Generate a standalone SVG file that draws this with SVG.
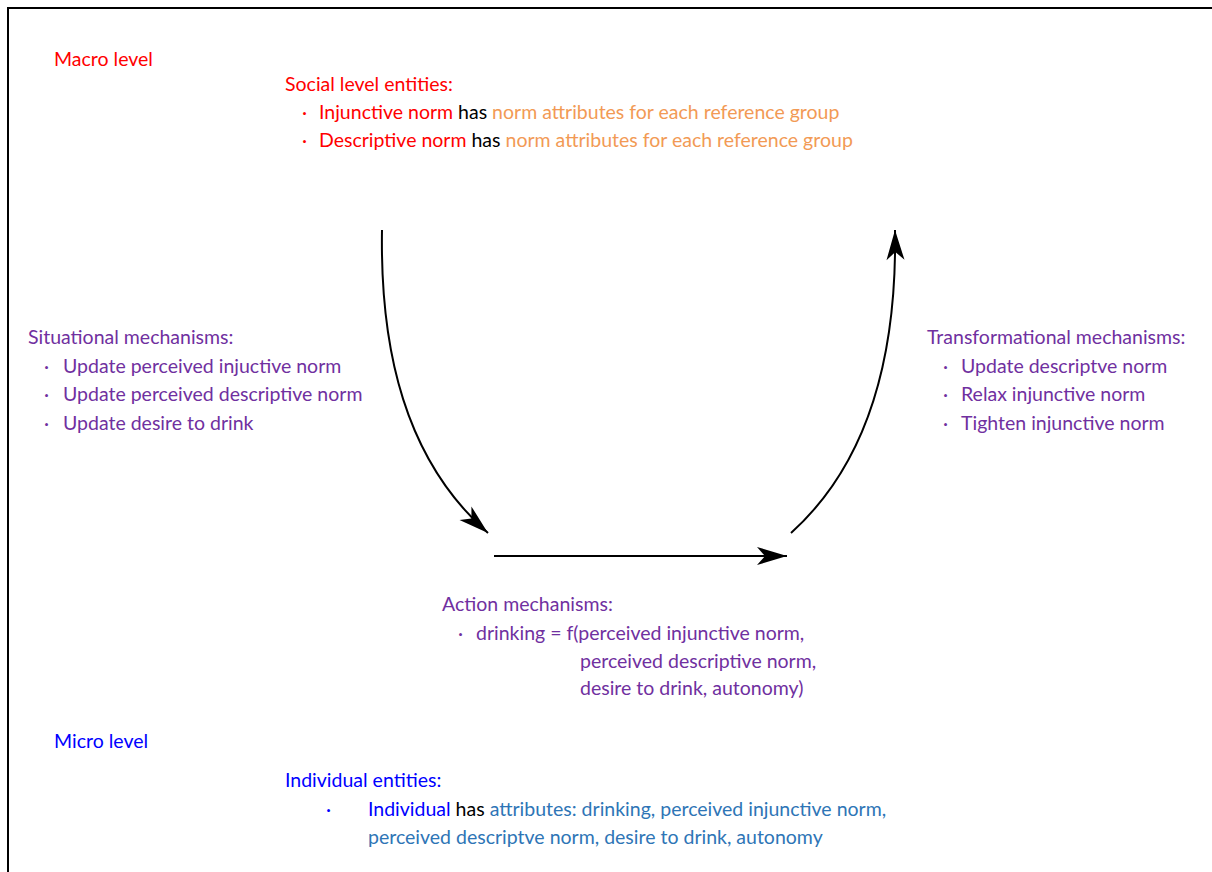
<svg xmlns="http://www.w3.org/2000/svg" width="1212" height="872" viewBox="0 0 1212 872">
<defs>
<style>
text{font-family:Lato,"Liberation Sans",sans-serif;font-size:19.5px}
.red{fill:#FF0000}.org{fill:#F29A55}.blk{fill:#000}.pur{fill:#7030A0}.blu{fill:#0000FF}.lbl{fill:#2E75B6}
.conn{fill:none;stroke:#000;stroke-width:2}
</style>
<marker id="ah" markerUnits="userSpaceOnUse" markerWidth="34" markerHeight="20" viewBox="-31 -10 32 20" refX="0" refY="0" orient="auto">
<path d="M0,0 L-30,-9 L-22,0 L-30,9 Z" fill="#000"/>
</marker>
</defs>
<rect x="8" y="8" width="1230" height="900" fill="#fff" stroke="#000" stroke-width="2"/>
<g id="macro"><text x="54" y="66" class="red">Macro level</text></g>
<g id="social">
<text x="285" y="91" class="red">Social level entities:</text>
<text x="302" y="119" class="red">·</text>
<text x="319" y="119"><tspan class="red">Injunctive norm</tspan><tspan class="blk"> has </tspan><tspan class="org">norm attributes for each reference group</tspan></text>
<text x="302" y="147" class="red">·</text>
<text x="319" y="147"><tspan class="red">Descriptive norm</tspan><tspan class="blk"> has </tspan><tspan class="org">norm attributes for each reference group</tspan></text>
</g>
<g id="situational">
<text x="28" y="344" class="pur">Situational mechanisms:</text>
<text x="44" y="373" class="pur">·</text><text x="63" y="373" class="pur">Update perceived injuctive norm</text>
<text x="44" y="401" class="pur">·</text><text x="63" y="401" class="pur">Update perceived descriptive norm</text>
<text x="44" y="430" class="pur">·</text><text x="63" y="430" class="pur">Update desire to drink</text>
</g>
<g id="transformational">
<text x="927" y="344" class="pur">Transformational mechanisms:</text>
<text x="943" y="373" class="pur">·</text><text x="961" y="373" class="pur">Update descriptve norm</text>
<text x="943" y="401" class="pur">·</text><text x="961" y="401" class="pur">Relax injunctive norm</text>
<text x="943" y="430" class="pur">·</text><text x="961" y="430" class="pur">Tighten injunctive norm</text>
</g>
<g id="action">
<text x="442" y="611" class="pur">Action mechanisms:</text>
<text x="458" y="640" class="pur">·</text><text x="476" y="640" class="pur">drinking = f(perceived injunctive norm,</text>
<text x="580" y="668" class="pur">perceived descriptive norm,</text>
<text x="580" y="695" class="pur">desire to drink, autonomy)</text>
</g>
<g id="micro"><text x="54" y="748" class="blu">Micro level</text></g>
<g id="individual">
<text x="285" y="787" class="blu">Individual entities:</text>
<text x="326" y="816" class="blu">·</text>
<text x="368" y="816"><tspan class="blu">Individual</tspan><tspan class="blk"> has </tspan><tspan class="lbl">attributes: drinking, perceived injunctive norm,</tspan></text>
<text x="368" y="844" class="lbl">perceived descriptve norm, desire to drink, autonomy</text>
</g>
<g id="connectors">
<path class="conn" d="M382,230 C380,350 405,460 488,533" marker-end="url(#ah)"/>
<path class="conn" d="M494,556 L787,556" marker-end="url(#ah)"/>
<path class="conn" d="M791,533 C872,460 897,350 895,230" marker-end="url(#ah)"/>
</g>
</svg>
